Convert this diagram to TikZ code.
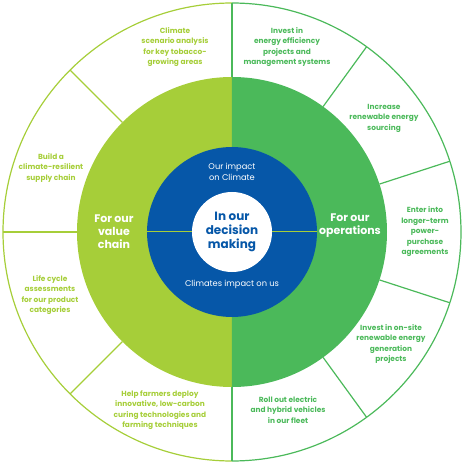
\documentclass[tikz,border=0pt]{standalone}
\usepackage{fontspec}
\setmainfont{Poppins}
\definecolor{limec}{HTML}{A6CE39}
\definecolor{greenc}{HTML}{4BB95A}
\definecolor{bluec}{HTML}{0657A8}
\tikzset{
  ring/.style={line width=1.2pt},
  lbl/.style={align=center, inner sep=0pt, font=\fontsize{7.4}{10.5}\selectfont\bfseries},
  limelbl/.style={lbl, text=limec},
  greenlbl/.style={lbl, text=greenc},
  half/.style={align=center, inner sep=0pt, text=white, font=\fontsize{11}{13}\selectfont\bfseries},
  bluelbl/.style={align=center, inner sep=0pt, text=white, font=\fontsize{8.3}{10.5}\selectfont},
  corelbl/.style={align=center, inner sep=0pt, text=bluec, font=\fontsize{12}{14}\selectfont\bfseries}
}
\begin{document}
\begin{tikzpicture}[x=1pt,y=1pt]
\useasboundingbox (-232,-231) rectangle (231,232);
% halves
\fill[limec] (0,155) arc (90:270:155) -- cycle;
\fill[greenc] (0,-155) arc (-90:90:155) -- cycle;
% blue disc
\fill[bluec] (0,0) circle (85);
\draw[limec, line width=1pt] (-85,0) -- (-40,0);
\draw[limec, line width=1pt] (40,0) -- (85,0);
\fill[white] (0,0) circle (40);
% outer ring
\draw[limec, ring] (0,229) arc (90:270:229);
\draw[greenc, ring] (0,-229) arc (-90:90:229);
\foreach \a in {135,180,225} \draw[limec, ring] (\a:155) -- (\a:229);
\foreach \a in {90,54,18,-18,-54,-90} \draw[greenc, ring] (\a:155) -- (\a:229);
% outer labels
\node[limelbl] (cs) at (-57,185) {Climate\\scenario analysis\\for key tobacco-\\growing areas};
\node[limelbl] (bc) at (-181,64) {Build a\\climate-resilient\\supply chain};
\node[limelbl] (lc) at (-182,-63) {Life cycle\\assessments\\for our product\\categories};
\node[limelbl] (hf) at (-72,-178) {Help farmers deploy\\innovative, low-carbon\\curing technologies and\\farming techniques};
\node[greenlbl] (ie) at (55,185) {Invest in\\energy efficiency\\projects and\\management systems};
\node[greenlbl] (ir) at (152,114) {Increase\\renewable energy\\sourcing};
\node[greenlbl] (ei) at (193,0) {Enter into\\longer-term\\power-\\purchase\\agreements};
\node[greenlbl] (io) at (159,-112) {Invest in on-site\\renewable energy\\generation\\projects};
\node[greenlbl] (ro) at (56,-178) {Roll out electric\\and hybrid vehicles\\in our fleet};
% halves labels
\node[half] (vc) at (-118,0) {For our\\value\\chain};
\node[half] (op) at (118,6.5) {For our\\operations};
% blue labels
\node[bluelbl] (oi) at (0,60) {Our impact\\on Climate};
\node[bluelbl] (ci) at (0,-52) {Climates impact on us};
\node[corelbl] (dm) at (0,0) {In our\\decision\\making};
\end{tikzpicture}
\end{document}
